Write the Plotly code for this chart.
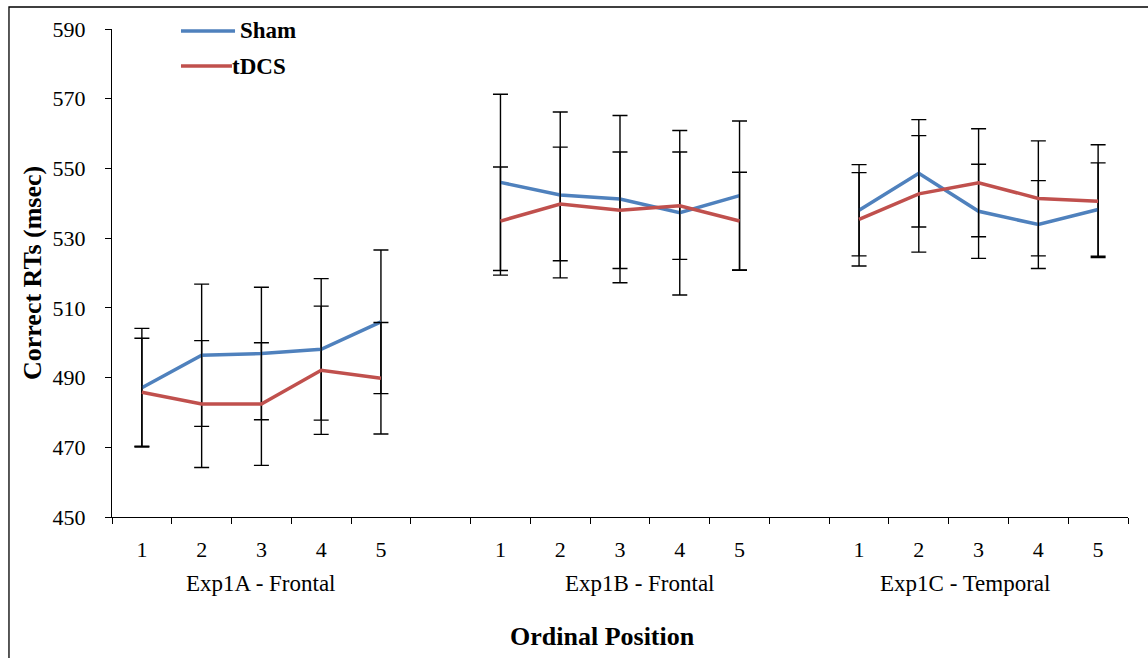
import plotly.graph_objects as go

# Mean correct RTs (msec) per ordinal position, and their error-bar half-widths
groups = ["Exp1A - Frontal", "Exp1B - Frontal", "Exp1C - Temporal"]
positions = ["1", "2", "3", "4", "5"]

sham_means = [
    [487.1, 496.4, 496.9, 498.1, 506.0],
    [546.0, 542.4, 541.2, 537.3, 542.2],
    [538.0, 548.6, 537.7, 533.9, 538.2],
]
sham_err = [
    [17.0, 20.4, 19.0, 20.3, 20.6],
    [25.3, 23.8, 24.0, 23.6, 21.4],
    [13.1, 15.4, 13.5, 12.6, 13.4],
]
tdcs_means = [
    [485.8, 482.4, 482.4, 492.1, 489.8],
    [534.9, 539.8, 538.0, 539.3, 534.9],
    [535.4, 542.7, 545.9, 541.4, 540.6],
]
tdcs_err = [
    [15.5, 18.2, 17.6, 18.4, 16.0],
    [15.5, 16.3, 16.7, 15.4, 14.0],
    [13.4, 16.7, 15.5, 16.5, 16.2],
]

y_ticks = [450, 470, 490, 510, 530, 550, 570, 590]

FONT = "Liberation Serif, DejaVu Serif, serif"
BLUE = "#4F81BD"
RED = "#C0504D"

# Each group takes five slots plus one empty spacer slot
slot = len(positions) + 1


def flatten(series):
    xs, ys = [], []
    for g, vals in enumerate(series):
        for p, v in enumerate(vals):
            xs.append(g * slot + p)
            ys.append(v)
        xs.append(None)
        ys.append(None)
    return xs[:-1], ys[:-1]


def flat_err(series):
    out = []
    for vals in series:
        out.extend(vals)
        out.append(None)
    return out[:-1]


fig = go.Figure()
for name, means, errs, color in [
    ("Sham", sham_means, sham_err, BLUE),
    ("tDCS", tdcs_means, tdcs_err, RED),
]:
    xs, ys = flatten(means)
    fig.add_trace(go.Scatter(
        x=xs, y=ys, mode="lines", name=name,
        line=dict(color=color, width=3.5),
        error_y=dict(type="data", array=flat_err(errs), color="black",
                     thickness=1.4, width=7.5),
        connectgaps=False, showlegend=False,
    ))

n_slots = len(groups) * slot - 1
centers = [g * slot + p for g in range(len(groups)) for p in range(len(positions))]
labels = [positions[p] for g in range(len(groups)) for p in range(len(positions))]
boundaries = [k - 0.5 for k in range(n_slots + 1)]

fig.update_layout(
    width=1148, height=658,
    margin=dict(l=112, r=20, t=29, b=141),
    paper_bgcolor="white", plot_bgcolor="white",
    font=dict(family=FONT, size=21, color="black"),
    xaxis=dict(
        range=[-0.5, n_slots - 0.5],
        tickmode="array", tickvals=centers, ticktext=labels,
        ticks="", showgrid=False, zeroline=False,
        showline=True, linecolor="black", linewidth=1,
        ticklabelstandoff=13,
        tickfont=dict(family=FONT, size=22),
        minor=dict(tickmode="array", tickvals=boundaries, ticks="outside",
                   ticklen=6, tickcolor="black", tickwidth=1, showgrid=False),
    ),
    yaxis=dict(
        range=[450, 590], tickmode="array", tickvals=y_ticks,
        ticks="outside", ticklen=6, tickcolor="black", tickwidth=1,
        showgrid=False, zeroline=False,
        showline=True, linecolor="black", linewidth=1,
        ticklabelstandoff=15,
        tickfont=dict(family=FONT, size=22),
    ),
    showlegend=False,
)

# Group labels under each block of positions
label_shift = [0, 20, -14]
for g, name in enumerate(groups):
    fig.add_annotation(
        x=g * slot + (len(positions) - 1) / 2, xref="x",
        y=-0.137, yref="paper", yanchor="middle",
        text=name, showarrow=False, xshift=label_shift[g],
        font=dict(family=FONT, size=23),
    )

# Axis titles
fig.add_annotation(
    x=0.483, xref="paper", y=-0.244, yref="paper", yanchor="middle",
    text="<b>Ordinal Position</b>", showarrow=False,
    font=dict(family=FONT, size=26),
)
fig.add_annotation(
    x=-0.0787, xref="paper", y=0.5, yref="paper",
    xanchor="center", yanchor="middle", textangle=-90,
    text="<b>Correct RTs (msec)</b>", showarrow=False,
    font=dict(family=FONT, size=26),
)

# Legend drawn in the upper-left corner of the plot
legend_rows = [("Sham", BLUE, 0.996, 0.1211, 0.124), ("tDCS", RED, 0.924, 0.1181, 0.1161)]
for text, color, yy, x_end, x_text in legend_rows:
    fig.add_shape(type="line", xref="paper", yref="paper",
                  x0=0.0679, x1=x_end, y0=yy, y1=yy,
                  line=dict(color=color, width=3.5))
    fig.add_annotation(x=x_text, xref="paper", y=yy, yref="paper",
                       xanchor="left", yanchor="middle",
                       text=f"<b>{text}</b>", showarrow=False,
                       font=dict(family=FONT, size=23))

# Outer frame around the whole chart
fig.add_shape(type="rect", xref="paper", yref="paper",
              x0=-0.1014, x1=1.0207, y0=-0.30, y1=1.0451,
              line=dict(color="black", width=1.3), fillcolor="rgba(0,0,0,0)",
              layer="above")

fig.write_html("out.html")
